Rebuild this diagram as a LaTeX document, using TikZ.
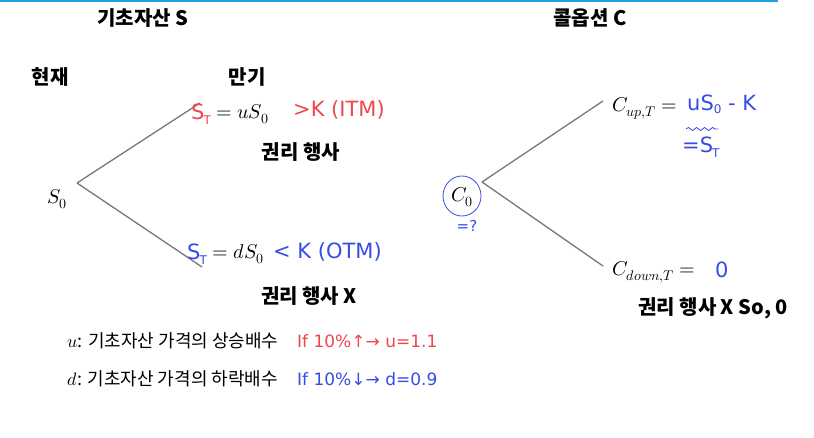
\documentclass[tikz,border=0pt]{standalone}
\usepackage{fontspec}
\usepackage{unicode-math}
\setmathfont{Latin Modern Math}
\newfontfamily\kr{Noto Sans CJK KR}
\newfontfamily\hand{DejaVu Sans}
\usetikzlibrary{positioning,decorations.pathmorphing}
\definecolor{penred}{RGB}{240,70,80}
\definecolor{penblue}{RGB}{55,75,230}
\definecolor{branchgray}{RGB}{120,120,120}
\definecolor{topblue}{RGB}{30,160,230}
\newcommand{\hST}{S\kern-1pt\raisebox{-5pt}{\fontsize{12}{12}\selectfont T}}
\tikzset{
  title/.style={font=\kr\bfseries\fontsize{20}{22}\selectfont},
  val/.style={font=\fontsize{20}{22}\selectfont, inner sep=1pt},
  note/.style={font=\kr\fontsize{18}{20}\selectfont, anchor=west},
  redpen/.style={text=penred, font=\hand\fontsize{21}{22}\selectfont, inner sep=1pt},
  bluepen/.style={text=penblue, font=\hand\fontsize{21}{22}\selectfont, inner sep=1pt},
  branch/.style={draw=branchgray, line width=1.3pt},
}
\begin{document}
\begin{tikzpicture}[x=1pt,y=-1pt]
    \useasboundingbox[fill=white] (0,0) rectangle (814,438);
    \draw[topblue, line width=2pt] (0,1) -- (778,1);
    % titles
    \node[title] (ttlS) at (143,18) {기초자산 S};
    \node[title] (ttlC) at (590,18) {콜옵션 C};
    \node[title] (now) at (50,77) {현재};
    \node[title] (mat) at (247,77) {만기};
    % underlying tree
    \node[val] (s0) at (57,199) {$S_0$};
    \coordinate (sroot) at (77,183);
    \coordinate (sup) at (200,103);
    \coordinate (sdown) at (202,267);
    \draw[branch] (sroot) -- (sup) (sroot) -- (sdown);
    \node[redpen, anchor=west] (suT) at (190,114) {\hST};
    \node[val, right=3pt of suT] (suval) {$=uS_0$};
    \node[redpen, anchor=west] (sucmp) at (292,110) {>K (ITM)};
    \node[title] (exer) at (301,152) {권리 행사};
    \node[bluepen, anchor=west] (sdT) at (186,254) {\hST};
    \node[val, right=3pt of sdT] (sdval) {$=dS_0$};
    \node[bluepen, anchor=west] (sdcmp) at (272,252) {< K (OTM)};
    \node[title] (noexer) at (309,296) {권리 행사 X};
    % call tree
    \node[val] (c0) at (462,197) {$C_0$};
    \draw[penblue, line width=0.8pt] (462,196) ellipse (19 and 20);
    \node[bluepen, font=\hand\fontsize{15}{15}\selectfont] (c0q) at (467,226) {=?};
    \coordinate (croot) at (482,182);
    \coordinate (cup) at (603,101);
    \coordinate (cdown) at (603,266);
    \draw[branch] (croot) -- (cup) (croot) -- (cdown);
    \node[val, anchor=west] (cu) at (611,108) {$C_{up,T}=$};
    \node[bluepen, anchor=west] (cuval) at (686,104) {uS\raisebox{-3pt}{\fontsize{12}{12}\selectfont 0} - K};
    \draw[penblue, line width=0.8pt, decorate,
          decoration={snake, amplitude=1.5pt, segment length=8pt}] (686,129) -- (718,129);
    \node[bluepen, anchor=west] (cuST) at (681,147) {=\hST};
    \node[val, anchor=west] (cd) at (611,272) {$C_{down,T}=$};
    \node[bluepen, anchor=west] (cdval) at (714,270) {0};
    \node[title] (cnoexer) at (713,308) {권리 행사 X So, 0};
    % factors
    \node[note] (ufac) at (64,341) {$u$: 기초자산 가격의 상승배수};
    \node[redpen, anchor=west, font=\hand\fontsize{17}{18}\selectfont] (uex) at (296,341) {If 10\%↑→ u=1.1};
    \node[note] (dfac) at (64,379) {$d$: 기초자산 가격의 하락배수};
    \node[bluepen, anchor=west, font=\hand\fontsize{17}{18}\selectfont] (dex) at (296,379) {If 10\%↓→ d=0.9};
\end{tikzpicture}
\end{document}
